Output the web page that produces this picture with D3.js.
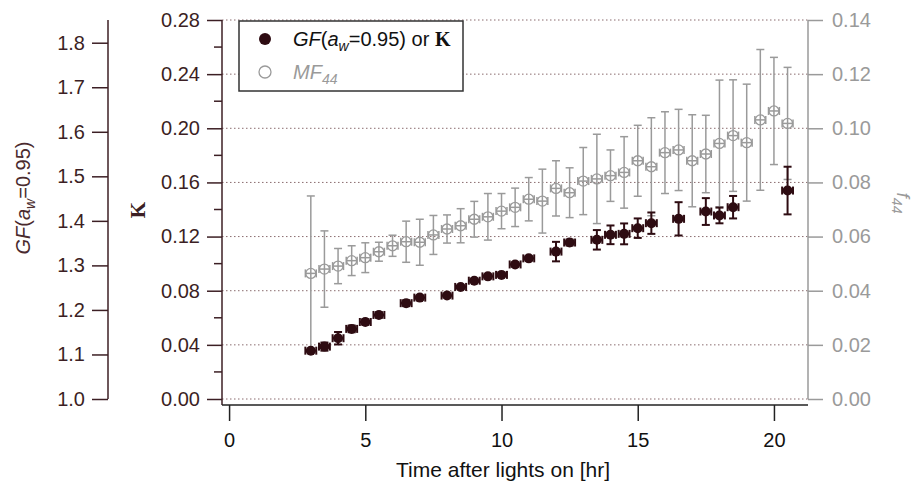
<!DOCTYPE html>
<html lang="en">
<head>
<meta charset="UTF-8">
<title>GF and MF44 after lights on</title>
<script src="https://cdn.jsdelivr.net/npm/d3@7"></script>
<style>
  body { margin: 0; background: #fff; }
  svg { font-family: 'Liberation Sans', Arial, sans-serif; }
</style>
</head>
<body>
<svg id="chart" width="915" height="483"></svg>
<script>
  // kappa / GF series (dark, left axis)
  const kHours = [3, 3.5, 4, 4.5, 5, 5.5, 6.5, 7, 8, 8.5, 9, 9.5, 10, 10.5, 11,
                  12, 12.5, 13.5, 14, 14.5, 15, 15.5, 16.5, 17.5, 18, 18.5, 20.5];
  const kappa = [0.0357, 0.0387, 0.0449, 0.0518, 0.0569, 0.0621, 0.0708, 0.0749, 0.0764, 0.0828, 0.0874, 0.0906, 0.0917, 0.0994, 0.1039,
                 0.1089, 0.1156, 0.1176, 0.1213, 0.1220, 0.1262, 0.1299, 0.1331, 0.1385, 0.1356, 0.1417, 0.1540];
  const kappaErr = [0.001, 0.003, 0.0046, 0.0025, 0.002, 0.002, 0.0022, 0.0015, 0.0005, 0.001, 0.001, 0.001, 0.001, 0.0015, 0.0015,
                    0.0072, 0.0022, 0.0072, 0.0069, 0.0077, 0.0072, 0.0079, 0.0123, 0.0099, 0.0058, 0.0083, 0.0176];

  // MF44 series (grey, right axis)
  const mfHours = [3, 3.5, 4, 4.5, 5, 5.5, 6, 6.5, 7, 7.5, 8, 8.5, 9, 9.5, 10, 10.5, 11, 11.5,
                   12, 12.5, 13, 13.5, 14, 14.5, 15, 15.5, 16, 16.5, 17, 17.5, 18, 18.5, 19, 19.5, 20, 20.5];
  const mf44 = [0.0464, 0.0480, 0.0491, 0.0511, 0.0522, 0.0544, 0.0566, 0.0581, 0.0579, 0.0606, 0.0628, 0.0640, 0.0664, 0.0673, 0.0694, 0.0708, 0.0738, 0.0731,
                0.0778, 0.0762, 0.0805, 0.0813, 0.0825, 0.0837, 0.0880, 0.0858, 0.0910, 0.0920, 0.0880, 0.0905, 0.0944, 0.0973, 0.0947, 0.1031, 0.1064, 0.1018];
  const mfErr = [0.0286, 0.0141, 0.0065, 0.0055, 0.0055, 0.0035, 0.0039, 0.0076, 0.0085, 0.0072, 0.0052, 0.0063, 0.0066, 0.0086, 0.0065, 0.0071, 0.0080, 0.0118,
                 0.0102, 0.0092, 0.0124, 0.0165, 0.0095, 0.0132, 0.0131, 0.0181, 0.0151, 0.0150, 0.0170, 0.0143, 0.0234, 0.0206, 0.0216, 0.0260, 0.0198, 0.0207];

  const hourErr = 0.2;

  const xTicks = [0, 5, 10, 15, 20];
  const kTicks = [0, 0.04, 0.08, 0.12, 0.16, 0.20, 0.24, 0.28];
  const kMinor = [0.02, 0.06, 0.10, 0.14, 0.18, 0.22, 0.26];
  const gfTicks = [1.0, 1.1, 1.2, 1.3, 1.4, 1.5, 1.6, 1.7, 1.8];
  const rTicks = [0, 0.02, 0.04, 0.06, 0.08, 0.10, 0.12, 0.14];

  const dark = "#2e0c12", axisDark = "#3c1f24", grey = "#9a9a9a", gridCol = "#8a6b6e";

  const svg = d3.select("#chart");

  const x = d3.scaleLinear().domain([-0.26, 21.25]).range([222, 808]);
  const yK = d3.scaleLinear().domain([0, 0.28]).range([399, 20]);
  const yR = d3.scaleLinear().domain([0, 0.14]).range([399, 20]);
  const yGF = d3.scaleLinear().domain([1.0, 1.851]).range([399, 20]);
  const frameBottom = 405;

  // dotted grid at the kappa major ticks
  svg.append("g").selectAll("line").data(kTicks).enter().append("line")
    .attr("x1", x.range()[0]).attr("x2", x.range()[1])
    .attr("y1", d => yK(d)).attr("y2", d => yK(d))
    .attr("stroke", gridCol).attr("stroke-width", 1).attr("stroke-dasharray", "1.5,2.5");

  function styleAxis(g, col) {
    g.selectAll("text").attr("fill", col).style("font-size", "20px");
    g.selectAll("line").attr("stroke", col).attr("stroke-width", 1.5);
    g.select(".domain").remove();
  }

  // kappa axis (left)
  const kAxis = svg.append("g").attr("transform", `translate(${x.range()[0]},0)`)
    .call(d3.axisLeft(yK).tickValues(kTicks).tickFormat(d3.format(".2f")).tickSize(15).tickPadding(7));
  styleAxis(kAxis, axisDark);
  kAxis.selectAll(".minor").data(kMinor).enter().append("line")
    .attr("x1", -8).attr("x2", 0).attr("y1", d => yK(d)).attr("y2", d => yK(d))
    .attr("stroke", axisDark).attr("stroke-width", 1.5);
  kAxis.append("line").attr("x1", 0).attr("x2", 0).attr("y1", yK(0.28)).attr("y2", frameBottom)
    .attr("stroke", axisDark).attr("stroke-width", 1.5);

  // GF axis (far left)
  const gfAxis = svg.append("g").attr("transform", "translate(108,0)")
    .call(d3.axisLeft(yGF).tickValues(gfTicks).tickFormat(d3.format(".1f")).tickSize(16).tickPadding(7));
  styleAxis(gfAxis, axisDark);
  gfAxis.append("line").attr("x1", 0).attr("x2", 0).attr("y1", yGF.range()[1]).attr("y2", yGF.range()[0])
    .attr("stroke", axisDark).attr("stroke-width", 1.5);

  // MF44 axis (right)
  const rAxis = svg.append("g").attr("transform", `translate(${x.range()[1]},0)`)
    .call(d3.axisRight(yR).tickValues(rTicks).tickFormat(d3.format(".2f")).tickSize(15).tickPadding(9));
  styleAxis(rAxis, grey);
  rAxis.append("line").attr("x1", 0).attr("x2", 0).attr("y1", yR.range()[1]).attr("y2", yR.range()[0])
    .attr("stroke", grey).attr("stroke-width", 1.5);

  // time axis (bottom)
  const xAxis = svg.append("g").attr("transform", `translate(0,${frameBottom})`)
    .call(d3.axisBottom(x).tickValues(xTicks).tickSize(16).tickPadding(12));
  styleAxis(xAxis, "#222");
  xAxis.selectAll("text").attr("fill", "#111");
  xAxis.append("line").attr("x1", x.range()[0]).attr("x2", x.range()[1]).attr("y1", 0).attr("y2", 0)
    .attr("stroke", "#222").attr("stroke-width", 1.5);

  // error bars with caps
  function drawSeries(hours, vals, errs, yScale, col, width, cap) {
    const g = svg.append("g").attr("stroke", col).attr("stroke-width", width).attr("fill", "none");
    hours.forEach((h, i) => {
      const cx = x(h), cy = yScale(vals[i]);
      const yTop = yScale(vals[i] + errs[i]), yBot = yScale(vals[i] - errs[i]);
      const xl = x(h - hourErr), xr = x(h + hourErr);
      g.append("line").attr("x1", cx).attr("x2", cx).attr("y1", yTop).attr("y2", yBot);
      g.append("line").attr("x1", cx - cap).attr("x2", cx + cap).attr("y1", yTop).attr("y2", yTop);
      g.append("line").attr("x1", cx - cap).attr("x2", cx + cap).attr("y1", yBot).attr("y2", yBot);
      g.append("line").attr("x1", xl).attr("x2", xr).attr("y1", cy).attr("y2", cy);
      g.append("line").attr("x1", xl).attr("x2", xl).attr("y1", cy - cap).attr("y2", cy + cap);
      g.append("line").attr("x1", xr).attr("x2", xr).attr("y1", cy - cap).attr("y2", cy + cap);
    });
    return g;
  }

  drawSeries(mfHours, mf44, mfErr, yR, grey, 1.5, 4);
  svg.append("g").selectAll("circle").data(mfHours).enter().append("circle")
    .attr("cx", d => x(d)).attr("cy", (d, i) => yR(mf44[i])).attr("r", 5)
    .attr("fill", "none").attr("stroke", grey).attr("stroke-width", 1.3);

  drawSeries(kHours, kappa, kappaErr, yK, dark, 2, 4);
  svg.append("g").selectAll("circle").data(kHours).enter().append("circle")
    .attr("cx", d => x(d)).attr("cy", (d, i) => yK(kappa[i])).attr("r", 5)
    .attr("fill", dark);

  // axis titles
  svg.append("text").attr("x", 503).attr("y", 477).attr("text-anchor", "middle")
    .attr("fill", "#111").style("font-size", "21px").text("Time after lights on [hr]");

  const gfLab = svg.append("text").attr("transform", "translate(30,198) rotate(-90)")
    .attr("text-anchor", "middle").attr("fill", "#4a2a2e").style("font-size", "20px");
  gfLab.append("tspan").attr("font-style", "italic").text("GF");
  gfLab.append("tspan").text("(");
  gfLab.append("tspan").attr("font-style", "italic").text("a");
  gfLab.append("tspan").attr("font-style", "italic").attr("dy", 5).style("font-size", "14px").text("w");
  gfLab.append("tspan").attr("dy", -5).text("=0.95)");

  svg.append("text").attr("transform", "translate(145,210) rotate(-90)")
    .attr("text-anchor", "middle").attr("fill", axisDark)
    .style("font-family", "'Liberation Serif', 'Times New Roman', serif").style("font-weight", "bold")
    .style("font-size", "21px").text("Κ");

  const fLab = svg.append("text").attr("transform", "translate(897,203) rotate(90)")
    .attr("text-anchor", "middle").attr("fill", grey).style("font-size", "19px").attr("font-style", "italic");
  fLab.append("tspan").text("f");
  fLab.append("tspan").attr("dy", 5).style("font-size", "14px").text("44");

  // legend
  const leg = svg.append("g");
  leg.append("rect").attr("x", 239).attr("y", 21).attr("width", 224).attr("height", 70)
    .attr("fill", "#fff").attr("stroke", "#333").attr("stroke-width", 1.5);
  leg.append("circle").attr("cx", 265).attr("cy", 39).attr("r", 6).attr("fill", dark);
  leg.append("circle").attr("cx", 265).attr("cy", 72).attr("r", 6).attr("fill", "none")
    .attr("stroke", grey).attr("stroke-width", 1.3);
  const l1 = leg.append("text").attr("x", 293).attr("y", 46).attr("fill", "#111").style("font-size", "20px");
  l1.append("tspan").attr("font-style", "italic").text("GF");
  l1.append("tspan").text("(");
  l1.append("tspan").attr("font-style", "italic").text("a");
  l1.append("tspan").attr("font-style", "italic").attr("dy", 5).style("font-size", "14px").text("w");
  l1.append("tspan").attr("dy", -5).text("=0.95) or ");
  l1.append("tspan").style("font-family", "'Liberation Serif', 'Times New Roman', serif")
    .style("font-weight", "bold").text("Κ");
  const l2 = leg.append("text").attr("x", 293).attr("y", 79).attr("fill", grey)
    .attr("font-style", "italic").style("font-size", "20px");
  l2.append("tspan").text("MF");
  l2.append("tspan").attr("dy", 5).style("font-size", "14px").text("44");
</script>
</body>
</html>
